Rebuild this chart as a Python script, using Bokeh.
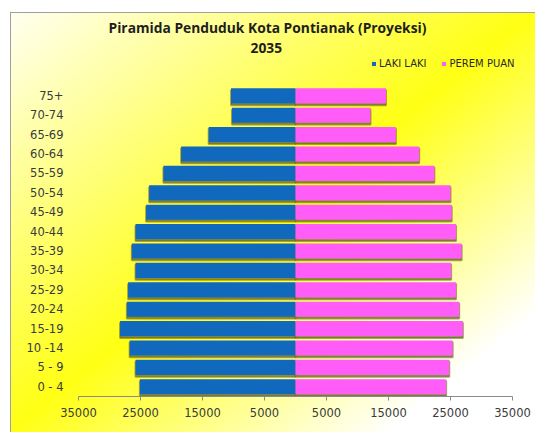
from bokeh.plotting import figure
from bokeh.models import (Range1d, FixedTicker, Title, Legend, LegendItem,
                          ColumnDataSource)
from bokeh.transform import dodge
from bokeh.embed import file_html
from bokeh.resources import INLINE

# ---- data ----
age_groups = ["0 - 4", "5 - 9", "10 -14", "15-19", "20-24", "25-29", "30-34",
              "35-39", "40-44", "45-49", "50-54", "55-59", "60-64", "65-69",
              "70-74", "75+"]
laki_laki = [25100, 25800, 26750, 28300, 27200, 27000, 25800, 26400,
             25800, 24100, 23600, 21300, 18450, 14000, 10250, 10400]
perempuan = [24300, 24800, 25350, 27000, 26400, 25900, 25100, 26800,
             25900, 25200, 25000, 22400, 19950, 16200, 12100, 14600]
x_ticks = [-35000, -25000, -15000, -5000, 5000, 15000, 25000, 35000]
x_tick_labels = ["35000", "25000", "15000", "5000", "5000", "15000", "25000", "35000"]

title_text = "Piramida Penduduk Kota Pontianak (Proyeksi)"
subtitle_text = "2035"
label_male = "LAKI LAKI"
label_female = "PEREM PUAN"

# positions of the age categories (bottom = first)
y_pos = list(range(len(age_groups)))

source = ColumnDataSource(dict(
    y=y_pos,
    male_left=[-v for v in laki_laki],
    female_right=perempuan,
    zero=[0] * len(age_groups),
))

BLUE = "#1169BD"
PINK = "#FF5CF8"
SHADOW = "#6E6B26"
TXT = "#3a3a3a"
AXIS = "#8a8a8a"

p = figure(width=525, height=420,
           y_range=Range1d(-0.5, 17.08),
           x_range=Range1d(-35000, 37420),
           output_backend="svg", toolbar_location=None, title_location=None,
           min_border_left=68, min_border_right=8,
           min_border_top=43, min_border_bottom=36)
p.margin = (12, 0, 0, 10)
p.background_fill_alpha = 0
p.border_fill_alpha = 0
p.outline_line_color = None
p.styles = {
    "background": "linear-gradient(to bottom right, #fffff2 0%, #ffff14 50%, #ffffff 86%)",
    "box-shadow": "inset 1px 1px 0 0 #a0a0a0",
}

p.xgrid.visible = False
p.ygrid.visible = False

ysh = dodge("y", -0.09)
# shadows
p.hbar(y=ysh, left="male_left", right="zero", height=0.78, source=source,
       fill_color=SHADOW, fill_alpha=0.75, line_color=SHADOW, line_alpha=0.6,
       line_width=2)
p.hbar(y=ysh, left="zero", right="female_right", height=0.78, source=source,
       fill_color=SHADOW, fill_alpha=0.75, line_color=SHADOW, line_alpha=0.6,
       line_width=2)
# bars
rm = p.hbar(y="y", left="male_left", right="zero", height=0.78, source=source,
            fill_color=BLUE, line_color=None)
rf = p.hbar(y="y", left="zero", right="female_right", height=0.78, source=source,
            fill_color=PINK, line_color=None)

# x axis
xa = p.xaxis[0]
xa.ticker = FixedTicker(ticks=x_ticks)
xa.bounds = (x_ticks[0], x_ticks[-1])
xa.major_label_overrides = {t: l for t, l in zip(x_ticks, x_tick_labels)}
xa.minor_tick_line_color = None
xa.major_tick_in = 0
xa.major_tick_out = 4
xa.major_tick_line_color = AXIS
xa.axis_line_color = AXIS
xa.major_label_standoff = 7
xa.major_label_text_font = "DejaVu Sans"
xa.major_label_text_font_size = "11.5px"
xa.major_label_text_color = TXT

# y axis: category labels only
ya = p.yaxis[0]
ya.ticker = FixedTicker(ticks=y_pos)
ya.major_label_overrides = {i: g for i, g in zip(y_pos, age_groups)}
ya.axis_line_color = None
ya.major_tick_line_color = None
ya.minor_tick_line_color = None
ya.major_label_standoff = 9
ya.major_label_text_font = "DejaVu Sans"
ya.major_label_text_font_size = "11.5px"
ya.major_label_text_color = TXT

# legend (top right, above the bars)
legend = Legend(items=[LegendItem(label=label_male, renderers=[rm]),
                       LegendItem(label=label_female, renderers=[rf])],
                orientation="horizontal", location=(293, 327),
                glyph_width=5, glyph_height=5, label_standoff=3, spacing=15,
                padding=0, margin=0, border_line_color=None,
                background_fill_alpha=0,
                label_text_font="DejaVu Sans", label_text_font_size="10px",
                label_text_color="#2a2a2a")
p.add_layout(legend)

# titles
t2 = Title(text=subtitle_text, align="left", offset=172, standoff=6,
           text_font="Open Sans", text_font_size="13.8px", text_font_style="bold",
           text_color="#1e1e1e")
p.add_layout(t2, "above")
t1 = Title(text=title_text, align="left", offset=30, standoff=2,
           text_font="Open Sans", text_font_size="13.8px", text_font_style="bold",
           text_color="#1e1e1e")
p.add_layout(t1, "above")

open("out.html", "w").write(file_html(p, INLINE))
